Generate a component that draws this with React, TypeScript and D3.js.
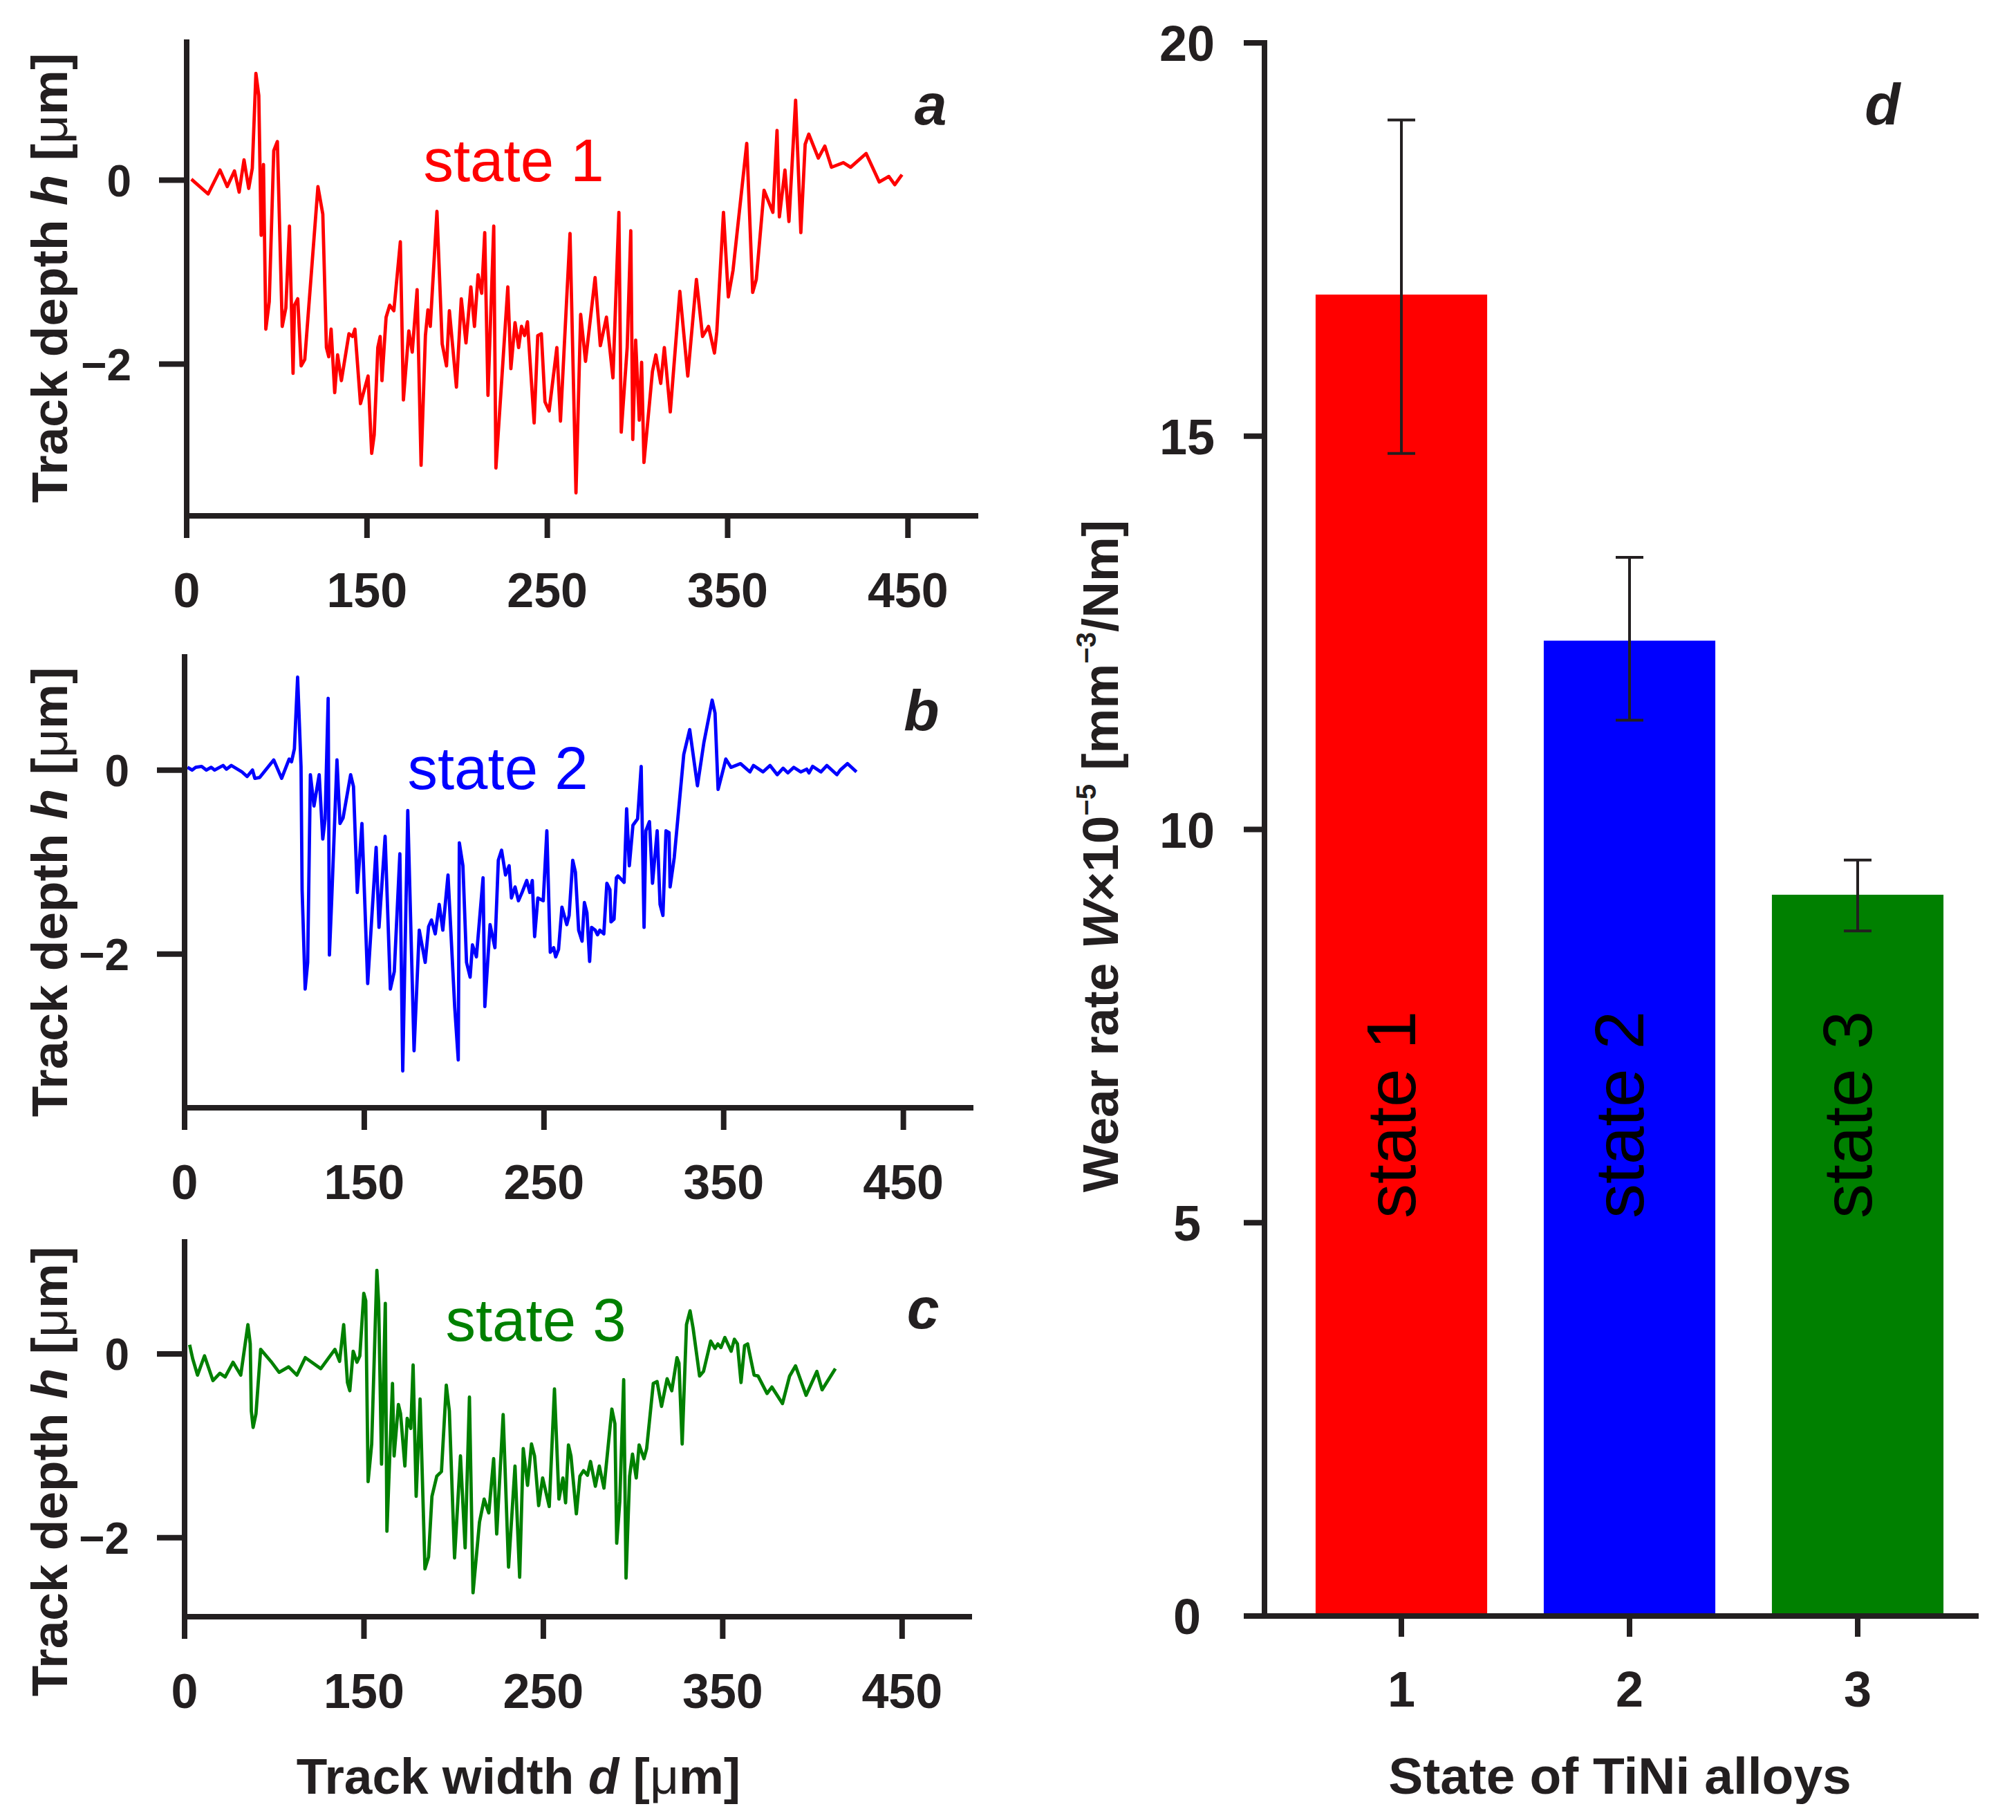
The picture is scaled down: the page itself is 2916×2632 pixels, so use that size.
import * as d3 from 'd3';

// profile tick positions (the first tick of the original reads "0")
const profileTickValues = [50, 150, 250, 350, 450];
const profileTickLabels = ['0', '150', '250', '350', '450'];
const depthTickValues = [0, -2];
const depthTickLabels = ['0', '\u22122'];

// track profiles: [track width d (µm), track depth h (µm)]
const state1Profile: [number, number][] = [
  [52.6,0.01],[61.9,-0.15],[68.5,0.11],[72.5,-0.07],[76.5,0.1],[79.1,-0.13],[81.8,0.22],[84.4,-0.09],[86.4,0.13],[88.4,1.16],
  [90,0.92],[91.3,-0.6],[92.6,0.17],[93.9,-1.62],[95.8,-1.32],[98.3,0.32],[100.3,0.42],[103,-1.59],[105,-1.39],[107,-0.5],
  [109,-2.1],[109.8,-1.36],[111.6,-1.29],[113.5,-2.02],[115.5,-1.95],[122.8,-0.07],[125.5,-0.37],[127.5,-1.82],[128.8,-1.92],[130.1,-1.62],
  [132.1,-2.31],[133.7,-1.9],[135.8,-2.18],[140,-1.67],[142,-1.7],[143.3,-1.62],[146.4,-2.43],[150.6,-2.13],[152.6,-2.97],[154,-2.77],
  [156,-1.82],[157.3,-1.7],[158.3,-2.18],[160.6,-1.49],[162.6,-1.36],[164.9,-1.42],[168.5,-0.67],[170.2,-2.39],[173.2,-1.64],[175.1,-1.87],
  [177.8,-1.19],[180,-3.1],[182.4,-1.69],[183.8,-1.41],[185.1,-1.59],[188.8,-0.34],[191.7,-1.78],[194.1,-2.02],[195.7,-1.42],[199.6,-2.25],
  [202.3,-1.29],[204.9,-1.77],[207.6,-1.16],[209.6,-1.59],[211.6,-1.03],[213.6,-1.23],[215.3,-0.57],[217.1,-2.34],[220.3,-0.5],[221.5,-3.13],
  [224.8,-2.15],[228.1,-1.16],[229.8,-2.05],[232.1,-1.55],[234.1,-1.82],[235.7,-1.59],[237.4,-1.69],[239,-1.54],[242.7,-2.64],[244.7,-1.69],
  [246.7,-1.67],[248.7,-2.41],[251,-2.51],[255.3,-1.82],[257.3,-2.62],[262.6,-0.58],[265.9,-3.4],[268.5,-1.46],[271.2,-1.97],[276.5,-1.06],
  [279.4,-1.8],[282.8,-1.49],[286.4,-2.15],[289.7,-0.35],[291,-2.74],[294.3,-1.82],[296.3,-0.55],[297.4,-2.82],[299,-1.74],[301,-2.61],
  [302.3,-1.98],[303.6,-3.07],[308.3,-2.08],[310.2,-1.9],[312.9,-2.21],[314.9,-1.82],[318.2,-2.52],[323.5,-1.21],[327.9,-2.13],[332.7,-1.08],
  [336.1,-1.7],[339.4,-1.59],[342.7,-1.88],[344,-1.65],[347.7,-0.35],[350.4,-1.27],[353,-0.98],[360.6,0.4],[363.9,-1.22],[365.9,-1.08],
  [370.2,-0.11],[375.1,-0.35],[377.4,0.54],[378.7,-0.4],[381.8,0.11],[384,-0.45],[387.7,0.87],[390.6,-0.57],[393,0.39],[395,0.5],
  [400.3,0.24],[403.9,0.37],[407.6,0.14],[414.2,0.19],[418.2,0.14],[426.8,0.29],[434.1,-0.02],[439.4,0.04],[442.7,-0.05],[446.7,0.06],
];

const state2Profile: [number, number][] = [
  [51.6,0.03],[54.2,0],[56.2,0.03],[59.5,0.04],[62.1,0],[64.8,0.03],[66.7,0],[71.4,0.05],[73.3,0.01],[76,0.05],
  [81.9,-0.02],[84.8,-0.07],[87.8,0],[89.1,-0.09],[91.8,-0.08],[99.6,0.11],[104,-0.09],[108.2,0.12],[109.5,0.09],[111.1,0.23],
  [112.9,1.01],[114.8,0.04],[115.4,-1.3],[117.1,-2.38],[118.5,-2.09],[120,-0.05],[122,-0.39],[124.9,-0.05],[126.9,-0.75],[128.2,-0.53],
  [129.9,0.78],[130.6,-2.01],[131.9,-1.39],[134.8,0.11],[136.5,-0.58],[138.2,-0.52],[142.4,-0.05],[144,-0.18],[146.1,-1.33],[148.7,-0.58],
  [151.9,-2.32],[156.6,-0.84],[158.2,-1.71],[161.6,-0.72],[164.5,-2.38],[166.7,-2.19],[169.8,-0.91],[171.4,-3.27],[174.2,-0.44],[177.7,-3.05],
  [180.6,-1.74],[183.9,-2.09],[185.8,-1.7],[187.4,-1.63],[189.5,-1.78],[191.7,-1.46],[193.7,-1.74],[196.6,-1.14],[200.3,-2.57],[202.3,-3.15],
  [202.9,-0.79],[204.9,-1.04],[206.9,-2.09],[208.9,-2.25],[210.2,-1.9],[212.4,-2.03],[216.1,-1.17],[217.1,-2.57],[220,-1.68],[222.7,-1.93],
  [224.6,-0.98],[226.4,-0.87],[228.6,-1.14],[230.6,-1.04],[231.9,-1.39],[233.9,-1.27],[235.8,-1.42],[237.8,-1.33],[240.4,-1.2],[242.1,-1.33],
  [243.5,-1.2],[244.8,-1.81],[246.6,-1.39],[249.6,-1.42],[251.6,-0.66],[253.5,-1.98],[255.4,-1.93],[256.5,-2.03],[258.1,-1.95],[260,-1.49],
  [262.7,-1.68],[264,-1.58],[266,-0.98],[267.5,-1.11],[269.3,-1.74],[271.2,-1.86],[272.5,-1.44],[273.9,-1.55],[275.4,-2.08],[276.5,-1.71],
  [278.5,-1.74],[279.8,-1.79],[281.1,-1.74],[283.3,-1.78],[285,-1.23],[286.7,-1.3],[287.3,-1.65],[289,-1.62],[290.3,-1.17],[291.2,-1.15],
  [294.6,-1.22],[296,-0.42],[297.5,-1.04],[299.5,-0.6],[302.1,-0.53],[304.1,0.04],[305.7,-1.71],[306.7,-0.66],[308.7,-0.56],[310.4,-1.23],
  [313,-0.66],[314.6,-1.46],[316.2,-1.58],[317.9,-0.66],[319.6,-0.68],[320.2,-1.27],[322.5,-0.95],[327.8,0.17],[331.1,0.44],[335.4,-0.17],
  [339,0.3],[343.6,0.76],[345.2,0.62],[346.9,-0.21],[350.2,0.04],[351.2,0.12],[354.1,0.03],[359.4,0.07],[364.6,-0.02],[366.6,0.05],
  [371.9,-0.02],[375.8,0.05],[379.8,-0.05],[383.1,0.02],[385.7,-0.03],[389,0.03],[392.9,-0.02],[396.2,0.01],[397.5,-0.03],[399.5,0.04],
  [404.1,-0.02],[407.4,0.05],[413,-0.05],[414.9,0],[418.9,0.07],[423.9,-0.02],
];

const state3Profile: [number, number][] = [
  [52.8,0.1],[54.5,-0.05],[57.2,-0.23],[61.1,-0.02],[65.8,-0.29],[69.7,-0.21],[72.6,-0.25],[77,-0.09],[81.3,-0.23],[85.3,0.32],
  [86.6,0.11],[87.2,-0.62],[88.2,-0.8],[89.8,-0.65],[92.4,0.05],[98.1,-0.08],[102.7,-0.2],[108,-0.14],[112.6,-0.23],[117.3,-0.04],
  [125.9,-0.16],[133.8,0.05],[136.4,-0.08],[138.7,0.32],[140.8,-0.31],[142.1,-0.4],[144,0.03],[146.1,-0.09],[147.7,-0.02],[149.9,0.66],
  [151,0.58],[152.3,-1.39],[154.3,-0.98],[157.2,0.91],[158.2,0.55],[159.8,-1.2],[161.9,0.55],[162.8,-1.93],[165.9,-0.32],[166.8,-1.11],
  [169.2,-0.55],[170.4,-0.65],[172.8,-1.22],[174.1,-0.7],[176.1,-0.81],[177.4,-0.12],[179.1,-1.55],[181.3,-0.49],[184,-2.34],[186,-2.21],
  [187.9,-1.55],[190.6,-1.33],[193.2,-1.28],[195.9,-0.34],[197.6,-0.62],[200.5,-2.22],[203.8,-1.11],[206.4,-2.11],[208.8,-0.47],[210.8,-2.6],
  [214.4,-1.83],[217,-1.58],[219.6,-1.73],[222.3,-1.14],[224,-1.96],[227.6,-0.66],[230.6,-2.32],[234.2,-1.22],[236.8,-2.43],[238.8,-1.03],
  [241.2,-1.43],[243.4,-0.98],[245.1,-1.11],[247.4,-1.65],[249.6,-1.35],[253.3,-1.66],[256.2,-0.38],[258.7,-1.58],[260.9,-1.35],[262.4,-1.62],
  [264,-0.99],[265.4,-1.11],[268.4,-1.74],[270.4,-1.33],[272.4,-1.27],[274.6,-1.32],[276.3,-1.17],[279,-1.44],[281.2,-1.22],[283.8,-1.46],
  [288.2,-0.6],[289.9,-0.76],[290.9,-2.06],[292.6,-1.61],[294.8,-0.28],[296.1,-2.44],[298.1,-1.33],[299.7,-1.09],[301.8,-1.35],[303.4,-0.99],
  [306.1,-1.14],[307.6,-1.03],[311.3,-0.32],[313.4,-0.3],[315.9,-0.57],[319,-0.27],[321.6,-0.4],[324.5,-0.04],[325.6,-0.1],[327.4,-0.98],
  [329.8,0.32],[331.8,0.47],[333.5,0.28],[337.1,-0.24],[339.3,-0.19],[343.3,0.14],[345.7,0.06],[347.3,0.11],[349,0.07],[351.2,0.18],
  [354.7,0.03],[356.5,0.16],[358.2,0.11],[360.2,-0.31],[362.2,0.09],[363.9,0.11],[367.5,-0.23],[369.7,-0.24],[374.7,-0.43],[377.4,-0.36],
  [383.3,-0.54],[387.3,-0.24],[390.6,-0.13],[396.5,-0.45],[402.5,-0.19],[405.4,-0.39],[412.8,-0.16],
];

// wear rate bar chart (d)
const states = ['1', '2', '3'];
const stateNames = ['state 1', 'state 2', 'state 3'];
const wearRate = [16.8, 12.4, 9.17];
const wearLow = [14.78, 11.39, 8.71];
const wearHigh = [19.02, 13.46, 9.61];
const wearTicks = [0, 5, 10, 15, 20];
const stateColors = ['#ff0000', '#0000ff', '#008000'];

const INK = '#231f20';
const FONT = '"Liberation Sans", Arial, Helvetica, sans-serif';

interface ProfileProps {
  data: [number, number][];
  color: string;
  name: string;
  letter: string;
  xRange: [number, number];
  yRange: [number, number];
  yDomain: [number, number];
  labelY: number;
  namePos: [number, number];
  letterPos: [number, number];
}

function ProfilePanel({ data, color, name, letter, xRange, yRange, yDomain, labelY, namePos, letterPos }: ProfileProps) {
  const x = d3.scaleLinear().domain([50, 489]).range(xRange);
  const y = d3.scaleLinear().domain(yDomain).range(yRange);
  const line = d3.line<[number, number]>().x(d => x(d[0])).y(d => y(d[1]));
  const [x0, x1] = xRange;
  const [yb, yt] = yRange;

  return (
    <g>
      <path d={line(data) ?? ''} fill="none" stroke={color} strokeWidth={4.8} strokeLinejoin="round" />
      {/* axes */}
      <line x1={x0} x2={x0} y1={yt} y2={yb + 32} stroke={INK} strokeWidth={8} />
      <line x1={x0 - 4} x2={x1} y1={yb} y2={yb} stroke={INK} strokeWidth={8} />
      {profileTickValues.map((v, i) => (
        <g key={v}>
          {i > 0 && <line x1={x(v)} x2={x(v)} y1={yb} y2={yb + 32} stroke={INK} strokeWidth={8} />}
          <text x={x(v)} y={yb + 132} textAnchor="middle" fontSize={70} fontWeight="bold" fill={INK}>
            {profileTickLabels[i]}
          </text>
        </g>
      ))}
      {depthTickValues.map((v, i) => (
        <g key={v}>
          <line x1={x0 - 40} x2={x0} y1={y(v)} y2={y(v)} stroke={INK} strokeWidth={8} />
          <text x={x0 - 80} y={y(v) + 23} textAnchor="end" fontSize={64} fontWeight="bold" fill={INK}>
            {depthTickLabels[i]}
          </text>
        </g>
      ))}
      <text
        transform={`translate(97,${labelY}) rotate(-90)`}
        textAnchor="middle"
        fontSize={73}
        fontWeight="bold"
        fill={INK}
      >
        Track depth{' '}
        <tspan fontStyle="italic">h</tspan>
        {' ['}
        <tspan fontWeight="normal">μ</tspan>
        {'m]'}
      </text>
      <text x={namePos[0]} y={namePos[1]} textAnchor="middle" fontSize={87} fill={color}>
        {name}
      </text>
      <text x={letterPos[0]} y={letterPos[1]} textAnchor="middle" fontSize={84} fontWeight="bold" fontStyle="italic" fill={INK}>
        {letter}
      </text>
    </g>
  );
}

function WearPanel() {
  const x = d3.scaleBand<string>().domain(states).range([1862, 2852]).paddingInner(0.248).paddingOuter(0.124);
  const y = d3.scaleLinear().domain([0, 20]).range([2337, 62]);
  const axisX = 1829;
  const bw = x.bandwidth();

  return (
    <g>
      {states.map((s, i) => {
        const cx = (x(s) ?? 0) + bw / 2;
        return (
          <g key={s}>
            <rect x={x(s)} y={y(wearRate[i])} width={bw} height={y(0) - y(wearRate[i])} fill={stateColors[i]} />
            <line x1={cx} x2={cx} y1={y(wearHigh[i])} y2={y(wearLow[i])} stroke={INK} strokeWidth={4} />
            <line x1={cx - 20} x2={cx + 20} y1={y(wearHigh[i])} y2={y(wearHigh[i])} stroke={INK} strokeWidth={4} />
            <line x1={cx - 20} x2={cx + 20} y1={y(wearLow[i])} y2={y(wearLow[i])} stroke={INK} strokeWidth={4} />
            <text
              transform={`translate(${cx - 15},1612) rotate(-90)`}
              textAnchor="middle"
              dy="0.35em"
              fontSize={100}
              fill="#000"
            >
              {stateNames[i]}
            </text>
            <line x1={cx} x2={cx} y1={y(0)} y2={y(0) + 30} stroke={INK} strokeWidth={8} />
            <text x={cx} y={2468} textAnchor="middle" fontSize={72} fontWeight="bold" fill={INK}>
              {s}
            </text>
          </g>
        );
      })}
      <line x1={axisX} x2={axisX} y1={y(20) - 4} y2={y(0)} stroke={INK} strokeWidth={8} />
      <line x1={axisX - 30} x2={2862} y1={y(0)} y2={y(0)} stroke={INK} strokeWidth={8} />
      {wearTicks.map(t => (
        <g key={t}>
          <line x1={axisX - 30} x2={axisX} y1={y(t)} y2={y(t)} stroke={INK} strokeWidth={8} />
          <text x={1717} y={y(t) + 26} textAnchor="middle" fontSize={72} fontWeight="bold" fill={INK}>
            {t}
          </text>
        </g>
      ))}
      <text
        transform="translate(1617,1238) rotate(-90)"
        textAnchor="middle"
        fontSize={73}
        fontWeight="bold"
        fill={INK}
      >
        {'Wear rate '}
        <tspan fontStyle="italic">W</tspan>
        {'×10'}
        <tspan fontSize={40} dy={-32}>{'\u22125'}</tspan>
        <tspan dy={32}>{' [mm'}</tspan>
        <tspan fontSize={40} dy={-32}>{'\u22123'}</tspan>
        <tspan dy={32}>{'/Nm]'}</tspan>
      </text>
      <text x={2723} y={180} textAnchor="middle" fontSize={84} fontWeight="bold" fontStyle="italic" fill={INK}>
        d
      </text>
      <text x={2343} y={2594} textAnchor="middle" fontSize={75} fontWeight="bold" fill={INK}>
        State of TiNi alloys
      </text>
    </g>
  );
}

export default function App() {
  return (
    <svg
      width={2916}
      height={2632}
      style={{ position: 'absolute', left: 0, top: 0 }}
      fontFamily={FONT}
    >
      <rect width={2916} height={2632} fill="#ffffff" />
      <ProfilePanel
        data={state1Profile}
        color={stateColors[0]}
        name="state 1"
        letter="a"
        xRange={[270, 1415]}
        yRange={[746, 57]}
        yDomain={[-3.65, 1.53]}
        labelY={402}
        namePos={[743, 262]}
        letterPos={[1346, 180]}
      />
      <ProfilePanel
        data={state2Profile}
        color={stateColors[1]}
        name="state 2"
        letter="b"
        xRange={[267, 1408]}
        yRange={[1602, 946]}
        yDomain={[-3.67, 1.26]}
        labelY={1290}
        namePos={[720, 1141]}
        letterPos={[1333, 1057]}
      />
      <ProfilePanel
        data={state3Profile}
        color={stateColors[2]}
        name="state 3"
        letter="c"
        xRange={[267, 1406]}
        yRange={[2338, 1792]}
        yDomain={[-2.86, 1.25]}
        labelY={2128}
        namePos={[775, 1939]}
        letterPos={[1335, 1921]}
      />
      <text x={750} y={2594} textAnchor="middle" fontSize={73} fontWeight="bold" fill={INK}>
        {'Track width '}
        <tspan fontStyle="italic">d</tspan>
        {' ['}
        <tspan fontWeight="normal">μ</tspan>
        {'m]'}
      </text>
      <WearPanel />
    </svg>
  );
}
